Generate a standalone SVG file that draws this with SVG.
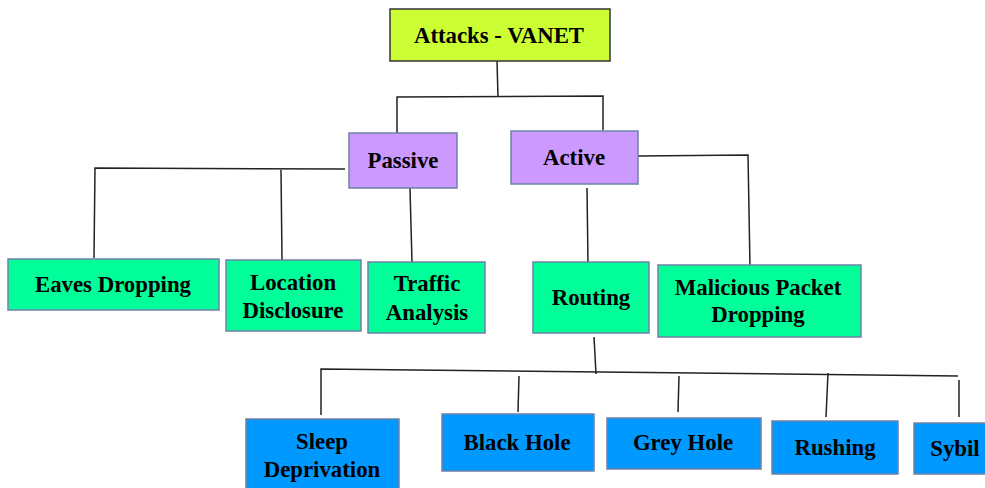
<svg xmlns="http://www.w3.org/2000/svg" width="985" height="488" viewBox="0 0 985 488">
<style>
  .box{stroke:#6d83a8;stroke-width:1.5}
  .lime{fill:#ccff33;stroke:#333333}
  .purple{fill:#cc99ff}
  .green{fill:#00ff99}
  .blue{fill:#0099ff}
  text{font-family:"Liberation Serif","Times New Roman",serif;font-weight:bold;font-size:22.8px;fill:#000;text-anchor:middle}
  .c line,.c polyline{stroke:#222;stroke-width:1.5;fill:none}
</style>
<rect width="985" height="488" fill="#ffffff"/>
<g class="c" id="connectors">
  <line x1="497" y1="61" x2="498" y2="97"/>
  <polyline points="397,133 397,97 603,96 603,130"/>
  <polyline points="345,169 95,168 94,258"/>
  <line x1="281" y1="170" x2="282" y2="260"/>
  <line x1="410" y1="188" x2="412" y2="262"/>
  <polyline points="638,156 748,155 750,267"/>
  <line x1="587" y1="188" x2="588" y2="264"/>
  <line x1="594" y1="337" x2="596" y2="374"/>
  <polyline points="321,415 321,369 958,376"/>
  <line x1="519" y1="376" x2="518" y2="412"/>
  <line x1="679" y1="376" x2="678" y2="412"/>
  <line x1="828" y1="373" x2="826" y2="417"/>
  <line x1="959" y1="380" x2="959" y2="417"/>
</g>
<g id="attacks-vanet"><rect class="box lime" x="390" y="9" width="220" height="52"/><text x="499" y="43">Attacks - VANET</text></g>
<g id="passive"><rect class="box purple" x="349" y="133" width="108" height="55"/><text x="403" y="168">Passive</text></g>
<g id="active"><rect class="box purple" x="511" y="131" width="127" height="53"/><text x="574" y="165">Active</text></g>
<g id="eaves-dropping"><rect class="box green" x="8" y="259" width="211" height="51"/><text x="113" y="292">Eaves Dropping</text></g>
<g id="location-disclosure"><rect class="box green" x="226" y="260" width="135" height="71"/><text x="293" y="290">Location</text><text x="293" y="318">Disclosure</text></g>
<g id="traffic-analysis"><rect class="box green" x="368" y="262" width="117" height="71"/><text x="427" y="291">Traffic</text><text x="427" y="320">Analysis</text></g>
<g id="routing"><rect class="box green" x="533" y="262" width="116" height="71"/><text x="591" y="305">Routing</text></g>
<g id="malicious-packet-dropping"><rect class="box green" x="658" y="265" width="203" height="72"/><text x="758" y="295">Malicious Packet</text><text x="758" y="322">Dropping</text></g>
<g id="sleep-deprivation"><rect class="box blue" x="246" y="419" width="153" height="75"/><text x="322" y="449">Sleep</text><text x="322" y="477">Deprivation</text></g>
<g id="black-hole"><rect class="box blue" x="442" y="414" width="152" height="57"/><text x="517" y="450">Black Hole</text></g>
<g id="grey-hole"><rect class="box blue" x="607" y="418" width="154" height="51"/><text x="683" y="450">Grey Hole</text></g>
<g id="rushing"><rect class="box blue" x="772" y="421" width="126" height="53"/><text x="835" y="455">Rushing</text></g>
<g id="sybil"><rect class="box blue" x="914" y="423" width="80" height="51"/><text x="955" y="456">Sybil</text></g>
</svg>
